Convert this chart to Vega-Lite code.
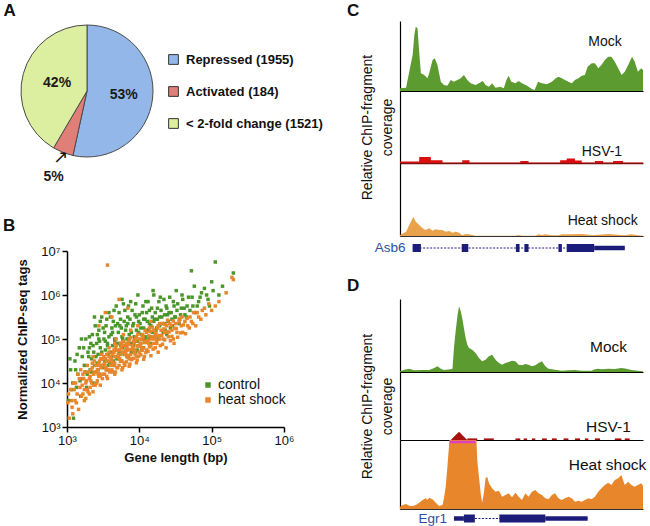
{
"$schema": "https://vega.github.io/schema/vega-lite/v6.json",
"padding": {"left": 2, "top": 2, "right": 0, "bottom": 0},
"config": {"font": "Liberation Sans", "view": {"stroke": null}, "title": {"fontSize": 17, "fontWeight": "bold", "anchor": "start", "color": "#111"}},
"resolve": {"scale": {"color": "independent"}, "legend": {"color": "independent"}},
"datasets": {
"pie": [{"cat": "Repressed (1955)", "n": 1955, "pct": "53%"}, {"cat": "Activated (184)", "n": 184, "pct": "5%"}, {"cat": "< 2-fold change (1521)", "n": 1521, "pct": "42%"}],
"scatter": [
{"grp":"control","lx":3.02,"ly":3.6},{"grp":"control","lx":3.05,"ly":4.3},{"grp":"control","lx":3.08,"ly":4.0},{"grp":"control","lx":3.09,"ly":3.2},
{"grp":"control","lx":3.11,"ly":4.5},{"grp":"control","lx":3.13,"ly":3.9},{"grp":"control","lx":3.15,"ly":4.2},{"grp":"control","lx":3.17,"ly":4.8},{"grp":"control","lx":3.19,"ly":3.7},
{"grp":"control","lx":3.21,"ly":4.6},{"grp":"control","lx":3.22,"ly":4.1},{"grp":"control","lx":3.24,"ly":4.4},{"grp":"control","lx":3.26,"ly":5.0},{"grp":"control","lx":3.27,"ly":3.9},{"grp":"control","lx":3.29,"ly":4.7},{"grp":"control","lx":3.25,"ly":4.25},
{"grp":"control","lx":3.31,"ly":4.8},{"grp":"control","lx":3.32,"ly":4.3},{"grp":"control","lx":3.34,"ly":4.55},{"grp":"control","lx":3.35,"ly":5.1},{"grp":"control","lx":3.36,"ly":4.0},{"grp":"control","lx":3.37,"ly":4.7},{"grp":"control","lx":3.38,"ly":4.4},{"grp":"control","lx":3.39,"ly":5.3},{"grp":"control","lx":3.33,"ly":4.9},
{"grp":"control","lx":3.41,"ly":4.9},{"grp":"control","lx":3.42,"ly":4.45},{"grp":"control","lx":3.43,"ly":4.65},{"grp":"control","lx":3.44,"ly":5.2},{"grp":"control","lx":3.45,"ly":4.2},{"grp":"control","lx":3.46,"ly":4.8},{"grp":"control","lx":3.47,"ly":4.55},{"grp":"control","lx":3.48,"ly":5.5},{"grp":"control","lx":3.49,"ly":4.35},{"grp":"control","lx":3.44,"ly":5.0},
{"grp":"control","lx":3.51,"ly":5.0},{"grp":"control","lx":3.52,"ly":4.5},{"grp":"control","lx":3.53,"ly":4.75},{"grp":"control","lx":3.54,"ly":5.3},{"grp":"control","lx":3.55,"ly":4.3},{"grp":"control","lx":3.56,"ly":4.9},{"grp":"control","lx":3.57,"ly":4.65},{"grp":"control","lx":3.58,"ly":5.6},{"grp":"control","lx":3.59,"ly":4.45},{"grp":"control","lx":3.52,"ly":5.15},{"grp":"control","lx":3.56,"ly":4.85},
{"grp":"control","lx":3.61,"ly":5.1},{"grp":"control","lx":3.62,"ly":4.6},{"grp":"control","lx":3.63,"ly":4.85},{"grp":"control","lx":3.64,"ly":5.4},{"grp":"control","lx":3.65,"ly":4.4},{"grp":"control","lx":3.66,"ly":5.0},{"grp":"control","lx":3.67,"ly":4.75},{"grp":"control","lx":3.68,"ly":5.75},{"grp":"control","lx":3.69,"ly":4.55},{"grp":"control","lx":3.62,"ly":5.25},{"grp":"control","lx":3.66,"ly":4.95},
{"grp":"control","lx":3.71,"ly":5.15},{"grp":"control","lx":3.72,"ly":4.7},{"grp":"control","lx":3.73,"ly":4.9},{"grp":"control","lx":3.74,"ly":5.45},{"grp":"control","lx":3.75,"ly":4.5},{"grp":"control","lx":3.76,"ly":5.05},{"grp":"control","lx":3.77,"ly":4.8},{"grp":"control","lx":3.78,"ly":5.8},{"grp":"control","lx":3.79,"ly":4.65},{"grp":"control","lx":3.73,"ly":5.3},{"grp":"control","lx":3.77,"ly":5.0},
{"grp":"control","lx":3.81,"ly":5.2},{"grp":"control","lx":3.82,"ly":4.75},{"grp":"control","lx":3.83,"ly":5.0},{"grp":"control","lx":3.84,"ly":5.5},{"grp":"control","lx":3.85,"ly":4.6},{"grp":"control","lx":3.86,"ly":5.1},{"grp":"control","lx":3.87,"ly":4.9},{"grp":"control","lx":3.88,"ly":5.85},{"grp":"control","lx":3.89,"ly":4.7},{"grp":"control","lx":3.84,"ly":5.35},
{"grp":"control","lx":3.91,"ly":5.3},{"grp":"control","lx":3.92,"ly":4.85},{"grp":"control","lx":3.93,"ly":5.05},{"grp":"control","lx":3.94,"ly":5.55},{"grp":"control","lx":3.95,"ly":4.7},{"grp":"control","lx":3.96,"ly":5.2},{"grp":"control","lx":3.97,"ly":4.95},{"grp":"control","lx":3.98,"ly":6.0},{"grp":"control","lx":3.99,"ly":5.4},
{"grp":"control","lx":4.01,"ly":5.35},{"grp":"control","lx":4.02,"ly":4.9},{"grp":"control","lx":4.03,"ly":5.1},{"grp":"control","lx":4.04,"ly":5.6},{"grp":"control","lx":4.05,"ly":4.8},{"grp":"control","lx":4.06,"ly":5.25},{"grp":"control","lx":4.07,"ly":5.0},{"grp":"control","lx":4.08,"ly":5.45},{"grp":"control","lx":4.09,"ly":5.85},
{"grp":"control","lx":4.11,"ly":5.4},{"grp":"control","lx":4.12,"ly":5.0},{"grp":"control","lx":4.13,"ly":5.2},{"grp":"control","lx":4.14,"ly":5.65},{"grp":"control","lx":4.15,"ly":4.9},{"grp":"control","lx":4.16,"ly":5.3},{"grp":"control","lx":4.18,"ly":5.5},{"grp":"control","lx":4.19,"ly":6.1},
{"grp":"control","lx":4.21,"ly":5.45},{"grp":"control","lx":4.22,"ly":5.05},{"grp":"control","lx":4.24,"ly":5.25},{"grp":"control","lx":4.25,"ly":5.7},{"grp":"control","lx":4.26,"ly":5.0},{"grp":"control","lx":4.28,"ly":5.5},{"grp":"control","lx":4.29,"ly":5.95},
{"grp":"control","lx":4.31,"ly":5.5},{"grp":"control","lx":4.33,"ly":5.15},{"grp":"control","lx":4.35,"ly":5.35},{"grp":"control","lx":4.37,"ly":5.75},{"grp":"control","lx":4.38,"ly":5.1},{"grp":"control","lx":4.39,"ly":5.55},
{"grp":"control","lx":4.41,"ly":5.6},{"grp":"control","lx":4.43,"ly":5.25},{"grp":"control","lx":4.45,"ly":5.45},{"grp":"control","lx":4.47,"ly":5.85},{"grp":"control","lx":4.49,"ly":5.5},
{"grp":"control","lx":4.52,"ly":5.65},{"grp":"control","lx":4.55,"ly":5.35},{"grp":"control","lx":4.57,"ly":5.55},{"grp":"control","lx":4.59,"ly":6.0},
{"grp":"control","lx":4.62,"ly":5.7},{"grp":"control","lx":4.65,"ly":5.5},{"grp":"control","lx":4.68,"ly":5.95},
{"grp":"control","lx":4.72,"ly":6.55},{"grp":"control","lx":4.74,"ly":5.75},{"grp":"control","lx":4.78,"ly":5.6},
{"grp":"control","lx":4.82,"ly":5.85},{"grp":"control","lx":4.86,"ly":6.05},{"grp":"control","lx":4.93,"ly":6.0},{"grp":"control","lx":4.97,"ly":5.75},
{"grp":"control","lx":5.05,"ly":6.75},{"grp":"control","lx":5.02,"ly":6.1},{"grp":"control","lx":5.15,"ly":6.2},{"grp":"control","lx":5.3,"ly":6.5},
{"grp":"control","lx":3.04,"ly":4.55},{"grp":"control","lx":3.06,"ly":3.85},{"grp":"control","lx":3.12,"ly":4.3},{"grp":"control","lx":3.14,"ly":4.65},{"grp":"control","lx":3.18,"ly":4.05},{"grp":"control","lx":3.2,"ly":5.0},{"grp":"control","lx":3.23,"ly":4.8},{"grp":"control","lx":3.28,"ly":4.2},{"grp":"control","lx":3.3,"ly":4.6},{"grp":"control","lx":3.31,"ly":5.05},{"grp":"control","lx":3.34,"ly":4.25},{"grp":"control","lx":3.36,"ly":4.85},{"grp":"control","lx":3.38,"ly":5.5},{"grp":"control","lx":3.4,"ly":4.6},{"grp":"control","lx":3.42,"ly":5.1},{"grp":"control","lx":3.43,"ly":4.3},{"grp":"control","lx":3.45,"ly":4.95},{"grp":"control","lx":3.46,"ly":5.4},{"grp":"control","lx":3.48,"ly":4.7},{"grp":"control","lx":3.5,"ly":4.4},{"grp":"control","lx":3.5,"ly":5.25},{"grp":"control","lx":3.53,"ly":4.95},{"grp":"control","lx":3.55,"ly":5.45},{"grp":"control","lx":3.57,"ly":4.4},{"grp":"control","lx":3.58,"ly":5.05},{"grp":"control","lx":3.6,"ly":4.7},{"grp":"control","lx":3.6,"ly":5.5},{"grp":"control","lx":3.63,"ly":5.15},{"grp":"control","lx":3.64,"ly":4.5},{"grp":"control","lx":3.65,"ly":5.65},{"grp":"control","lx":3.67,"ly":5.3},{"grp":"control","lx":3.69,"ly":4.9},{"grp":"control","lx":3.7,"ly":5.35},{"grp":"control","lx":3.7,"ly":4.6},{"grp":"control","lx":3.72,"ly":5.6},{"grp":"control","lx":3.74,"ly":4.85},{"grp":"control","lx":3.75,"ly":5.25},{"grp":"control","lx":3.76,"ly":5.9},{"grp":"control","lx":3.78,"ly":4.95},{"grp":"control","lx":3.79,"ly":5.4},{"grp":"control","lx":3.8,"ly":4.85},{"grp":"control","lx":3.8,"ly":5.65},{"grp":"control","lx":3.82,"ly":5.3},{"grp":"control","lx":3.83,"ly":4.6},{"grp":"control","lx":3.85,"ly":5.75},{"grp":"control","lx":3.86,"ly":5.0},{"grp":"control","lx":3.87,"ly":5.45},{"grp":"control","lx":3.89,"ly":5.15},{"grp":"control","lx":3.9,"ly":4.9},{"grp":"control","lx":3.9,"ly":5.65},{"grp":"control","lx":3.92,"ly":5.35},{"grp":"control","lx":3.94,"ly":5.0},{"grp":"control","lx":3.95,"ly":5.8},{"grp":"control","lx":3.96,"ly":5.5},{"grp":"control","lx":3.97,"ly":4.75},{"grp":"control","lx":3.99,"ly":5.15},{"grp":"control","lx":4.0,"ly":5.55},{"grp":"control","lx":4.02,"ly":5.25},{"grp":"control","lx":4.03,"ly":4.75},{"grp":"control","lx":4.05,"ly":5.75},{"grp":"control","lx":4.06,"ly":5.45},{"grp":"control","lx":4.08,"ly":5.05},{"grp":"control","lx":4.1,"ly":5.6},{"grp":"control","lx":4.1,"ly":5.2},{"grp":"control","lx":4.12,"ly":5.85},{"grp":"control","lx":4.14,"ly":5.35},{"grp":"control","lx":4.15,"ly":5.05},{"grp":"control","lx":4.17,"ly":5.7},{"grp":"control","lx":4.18,"ly":5.15},{"grp":"control","lx":4.2,"ly":5.4},{"grp":"control","lx":4.2,"ly":6.0},{"grp":"control","lx":4.22,"ly":5.6},{"grp":"control","lx":4.23,"ly":5.2},{"grp":"control","lx":4.25,"ly":5.45},{"grp":"control","lx":4.27,"ly":5.85},{"grp":"control","lx":4.28,"ly":5.3},{"grp":"control","lx":4.3,"ly":5.65},{"grp":"control","lx":4.32,"ly":5.35},{"grp":"control","lx":4.34,"ly":5.9},{"grp":"control","lx":4.35,"ly":5.55},{"grp":"control","lx":4.36,"ly":5.2},{"grp":"control","lx":4.38,"ly":5.7},{"grp":"control","lx":4.4,"ly":5.4},{"grp":"control","lx":4.42,"ly":5.95},{"grp":"control","lx":4.44,"ly":5.6},{"grp":"control","lx":4.46,"ly":5.3},{"grp":"control","lx":4.48,"ly":5.75},{"grp":"control","lx":4.5,"ly":5.5},{"grp":"control","lx":4.51,"ly":6.1},{"grp":"control","lx":4.53,"ly":5.8},{"grp":"control","lx":4.56,"ly":5.45},{"grp":"control","lx":4.58,"ly":5.7},{"grp":"control","lx":4.6,"ly":5.9},{"grp":"control","lx":4.63,"ly":5.55},{"grp":"control","lx":4.66,"ly":5.75},{"grp":"control","lx":4.7,"ly":5.65},{"grp":"control","lx":4.73,"ly":5.95},{"grp":"control","lx":4.76,"ly":6.2},{"grp":"control","lx":4.8,"ly":5.75},{"grp":"control","lx":4.84,"ly":5.95},{"grp":"control","lx":4.9,"ly":6.15},{"grp":"control","lx":4.95,"ly":5.9},{"grp":"control","lx":5.0,"ly":6.3},{"grp":"control","lx":5.1,"ly":6.0},
{"grp":"heat shock","lx":3.01,"ly":3.55},{"grp":"heat shock","lx":3.03,"ly":3.2},{"grp":"heat shock","lx":3.05,"ly":3.85},{"grp":"heat shock","lx":3.07,"ly":3.45},{"grp":"heat shock","lx":3.09,"ly":4.0},
{"grp":"heat shock","lx":3.11,"ly":3.6},{"grp":"heat shock","lx":3.12,"ly":4.0},{"grp":"heat shock","lx":3.14,"ly":3.75},{"grp":"heat shock","lx":3.15,"ly":4.2},{"grp":"heat shock","lx":3.16,"ly":3.4},{"grp":"heat shock","lx":3.18,"ly":3.9},{"grp":"heat shock","lx":3.19,"ly":4.3},
{"grp":"heat shock","lx":3.21,"ly":3.95},{"grp":"heat shock","lx":3.22,"ly":3.75},{"grp":"heat shock","lx":3.23,"ly":4.1},{"grp":"heat shock","lx":3.24,"ly":3.85},{"grp":"heat shock","lx":3.25,"ly":4.25},{"grp":"heat shock","lx":3.26,"ly":3.65},{"grp":"heat shock","lx":3.27,"ly":4.05},{"grp":"heat shock","lx":3.28,"ly":4.4},{"grp":"heat shock","lx":3.29,"ly":3.8},
{"grp":"heat shock","lx":3.31,"ly":4.1},{"grp":"heat shock","lx":3.32,"ly":3.9},{"grp":"heat shock","lx":3.33,"ly":4.3},{"grp":"heat shock","lx":3.34,"ly":4.0},{"grp":"heat shock","lx":3.35,"ly":4.35},{"grp":"heat shock","lx":3.36,"ly":3.8},{"grp":"heat shock","lx":3.37,"ly":4.2},{"grp":"heat shock","lx":3.38,"ly":4.5},{"grp":"heat shock","lx":3.39,"ly":3.95},{"grp":"heat shock","lx":3.32,"ly":4.15},{"grp":"heat shock","lx":3.36,"ly":4.6},
{"grp":"heat shock","lx":3.41,"ly":4.25},{"grp":"heat shock","lx":3.42,"ly":4.05},{"grp":"heat shock","lx":3.43,"ly":4.4},{"grp":"heat shock","lx":3.44,"ly":4.15},{"grp":"heat shock","lx":3.45,"ly":4.5},{"grp":"heat shock","lx":3.46,"ly":3.95},{"grp":"heat shock","lx":3.47,"ly":4.35},{"grp":"heat shock","lx":3.48,"ly":4.65},{"grp":"heat shock","lx":3.49,"ly":4.1},{"grp":"heat shock","lx":3.42,"ly":4.3},{"grp":"heat shock","lx":3.45,"ly":4.2},{"grp":"heat shock","lx":3.47,"ly":4.55},{"grp":"heat shock","lx":3.44,"ly":5.3},
{"grp":"heat shock","lx":3.51,"ly":4.4},{"grp":"heat shock","lx":3.52,"ly":4.2},{"grp":"heat shock","lx":3.53,"ly":4.55},{"grp":"heat shock","lx":3.54,"ly":4.3},{"grp":"heat shock","lx":3.55,"ly":4.65},{"grp":"heat shock","lx":3.56,"ly":4.1},{"grp":"heat shock","lx":3.57,"ly":4.5},{"grp":"heat shock","lx":3.58,"ly":4.8},{"grp":"heat shock","lx":3.59,"ly":4.25},{"grp":"heat shock","lx":3.52,"ly":4.45},{"grp":"heat shock","lx":3.54,"ly":4.35},{"grp":"heat shock","lx":3.56,"ly":6.68},{"grp":"heat shock","lx":3.58,"ly":4.6},{"grp":"heat shock","lx":3.53,"ly":5.6},
{"grp":"heat shock","lx":3.61,"ly":4.5},{"grp":"heat shock","lx":3.62,"ly":4.3},{"grp":"heat shock","lx":3.63,"ly":4.65},{"grp":"heat shock","lx":3.64,"ly":4.4},{"grp":"heat shock","lx":3.65,"ly":4.75},{"grp":"heat shock","lx":3.66,"ly":4.2},{"grp":"heat shock","lx":3.67,"ly":4.6},{"grp":"heat shock","lx":3.68,"ly":4.85},{"grp":"heat shock","lx":3.69,"ly":4.35},{"grp":"heat shock","lx":3.61,"ly":4.55},{"grp":"heat shock","lx":3.63,"ly":4.45},{"grp":"heat shock","lx":3.65,"ly":4.7},{"grp":"heat shock","lx":3.67,"ly":4.25},{"grp":"heat shock","lx":3.68,"ly":5.0},{"grp":"heat shock","lx":3.62,"ly":5.5},{"grp":"heat shock","lx":3.66,"ly":4.9},
{"grp":"heat shock","lx":3.71,"ly":4.6},{"grp":"heat shock","lx":3.72,"ly":4.4},{"grp":"heat shock","lx":3.73,"ly":4.75},{"grp":"heat shock","lx":3.74,"ly":4.5},{"grp":"heat shock","lx":3.75,"ly":4.85},{"grp":"heat shock","lx":3.76,"ly":4.3},{"grp":"heat shock","lx":3.77,"ly":4.7},{"grp":"heat shock","lx":3.78,"ly":4.95},{"grp":"heat shock","lx":3.79,"ly":4.45},{"grp":"heat shock","lx":3.71,"ly":4.65},{"grp":"heat shock","lx":3.73,"ly":4.55},{"grp":"heat shock","lx":3.75,"ly":4.8},{"grp":"heat shock","lx":3.77,"ly":4.35},{"grp":"heat shock","lx":3.78,"ly":5.1},{"grp":"heat shock","lx":3.72,"ly":5.9},{"grp":"heat shock","lx":3.76,"ly":4.9},
{"grp":"heat shock","lx":3.81,"ly":4.68},{"grp":"heat shock","lx":3.82,"ly":4.48},{"grp":"heat shock","lx":3.83,"ly":4.83},{"grp":"heat shock","lx":3.84,"ly":4.58},{"grp":"heat shock","lx":3.85,"ly":4.93},{"grp":"heat shock","lx":3.86,"ly":4.38},{"grp":"heat shock","lx":3.87,"ly":4.76},{"grp":"heat shock","lx":3.88,"ly":5.03},{"grp":"heat shock","lx":3.89,"ly":4.53},{"grp":"heat shock","lx":3.81,"ly":4.73},{"grp":"heat shock","lx":3.83,"ly":4.63},{"grp":"heat shock","lx":3.85,"ly":4.88},{"grp":"heat shock","lx":3.87,"ly":4.43},{"grp":"heat shock","lx":3.88,"ly":5.2},{"grp":"heat shock","lx":3.84,"ly":5.7},
{"grp":"heat shock","lx":3.91,"ly":4.76},{"grp":"heat shock","lx":3.92,"ly":4.56},{"grp":"heat shock","lx":3.93,"ly":4.91},{"grp":"heat shock","lx":3.94,"ly":4.66},{"grp":"heat shock","lx":3.95,"ly":5.01},{"grp":"heat shock","lx":3.96,"ly":4.46},{"grp":"heat shock","lx":3.97,"ly":4.84},{"grp":"heat shock","lx":3.98,"ly":5.11},{"grp":"heat shock","lx":3.99,"ly":4.61},{"grp":"heat shock","lx":3.91,"ly":4.81},{"grp":"heat shock","lx":3.93,"ly":4.71},{"grp":"heat shock","lx":3.95,"ly":4.96},{"grp":"heat shock","lx":3.97,"ly":4.52},{"grp":"heat shock","lx":3.98,"ly":5.3},
{"grp":"heat shock","lx":4.01,"ly":4.84},{"grp":"heat shock","lx":4.02,"ly":4.64},{"grp":"heat shock","lx":4.03,"ly":4.99},{"grp":"heat shock","lx":4.04,"ly":4.74},{"grp":"heat shock","lx":4.05,"ly":5.09},{"grp":"heat shock","lx":4.06,"ly":4.54},{"grp":"heat shock","lx":4.07,"ly":4.92},{"grp":"heat shock","lx":4.08,"ly":5.19},{"grp":"heat shock","lx":4.09,"ly":4.69},{"grp":"heat shock","lx":4.01,"ly":4.89},{"grp":"heat shock","lx":4.03,"ly":4.79},{"grp":"heat shock","lx":4.05,"ly":5.04},{"grp":"heat shock","lx":4.07,"ly":4.6},
{"grp":"heat shock","lx":4.11,"ly":4.92},{"grp":"heat shock","lx":4.12,"ly":4.72},{"grp":"heat shock","lx":4.13,"ly":5.07},{"grp":"heat shock","lx":4.14,"ly":4.82},{"grp":"heat shock","lx":4.15,"ly":5.17},{"grp":"heat shock","lx":4.16,"ly":4.62},{"grp":"heat shock","lx":4.17,"ly":5.0},{"grp":"heat shock","lx":4.18,"ly":5.27},{"grp":"heat shock","lx":4.19,"ly":4.77},{"grp":"heat shock","lx":4.12,"ly":4.97},{"grp":"heat shock","lx":4.16,"ly":5.4},
{"grp":"heat shock","lx":4.21,"ly":5.0},{"grp":"heat shock","lx":4.22,"ly":4.8},{"grp":"heat shock","lx":4.23,"ly":5.15},{"grp":"heat shock","lx":4.24,"ly":4.9},{"grp":"heat shock","lx":4.25,"ly":5.25},{"grp":"heat shock","lx":4.26,"ly":4.7},{"grp":"heat shock","lx":4.27,"ly":5.08},{"grp":"heat shock","lx":4.28,"ly":5.35},{"grp":"heat shock","lx":4.29,"ly":4.85},{"grp":"heat shock","lx":4.23,"ly":5.05},
{"grp":"heat shock","lx":4.31,"ly":5.08},{"grp":"heat shock","lx":4.32,"ly":4.88},{"grp":"heat shock","lx":4.34,"ly":5.23},{"grp":"heat shock","lx":4.35,"ly":4.98},{"grp":"heat shock","lx":4.36,"ly":5.33},{"grp":"heat shock","lx":4.37,"ly":4.8},{"grp":"heat shock","lx":4.38,"ly":5.16},{"grp":"heat shock","lx":4.39,"ly":5.43},
{"grp":"heat shock","lx":4.41,"ly":5.16},{"grp":"heat shock","lx":4.43,"ly":4.96},{"grp":"heat shock","lx":4.44,"ly":5.31},{"grp":"heat shock","lx":4.45,"ly":5.06},{"grp":"heat shock","lx":4.47,"ly":5.41},{"grp":"heat shock","lx":4.48,"ly":4.9},{"grp":"heat shock","lx":4.49,"ly":5.24},
{"grp":"heat shock","lx":4.51,"ly":5.24},{"grp":"heat shock","lx":4.53,"ly":5.04},{"grp":"heat shock","lx":4.55,"ly":5.39},{"grp":"heat shock","lx":4.57,"ly":5.14},{"grp":"heat shock","lx":4.59,"ly":5.5},
{"grp":"heat shock","lx":4.61,"ly":5.32},{"grp":"heat shock","lx":4.64,"ly":5.12},{"grp":"heat shock","lx":4.66,"ly":5.47},{"grp":"heat shock","lx":4.69,"ly":5.25},
{"grp":"heat shock","lx":4.72,"ly":5.4},{"grp":"heat shock","lx":4.75,"ly":5.6},{"grp":"heat shock","lx":4.78,"ly":5.3},
{"grp":"heat shock","lx":4.82,"ly":5.5},{"grp":"heat shock","lx":4.87,"ly":5.65},{"grp":"heat shock","lx":4.92,"ly":5.55},{"grp":"heat shock","lx":4.96,"ly":5.8},
{"grp":"heat shock","lx":5.05,"ly":5.75},{"grp":"heat shock","lx":5.2,"ly":6.05},{"grp":"heat shock","lx":5.3,"ly":6.35},{"grp":"heat shock","lx":5.28,"ly":6.4},
{"grp":"heat shock","lx":3.02,"ly":3.75},{"grp":"heat shock","lx":3.06,"ly":3.6},{"grp":"heat shock","lx":3.08,"ly":3.3},{"grp":"heat shock","lx":3.1,"ly":3.85},{"grp":"heat shock","lx":3.13,"ly":3.55},{"grp":"heat shock","lx":3.17,"ly":4.1},{"grp":"heat shock","lx":3.2,"ly":3.7},{"grp":"heat shock","lx":3.22,"ly":4.2},{"grp":"heat shock","lx":3.24,"ly":3.6},{"grp":"heat shock","lx":3.26,"ly":4.0},{"grp":"heat shock","lx":3.28,"ly":3.85},{"grp":"heat shock","lx":3.3,"ly":4.25},{"grp":"heat shock","lx":3.31,"ly":3.75},{"grp":"heat shock","lx":3.33,"ly":4.05},{"grp":"heat shock","lx":3.35,"ly":4.45},{"grp":"heat shock","lx":3.37,"ly":3.95},{"grp":"heat shock","lx":3.38,"ly":4.25},{"grp":"heat shock","lx":3.4,"ly":4.4},{"grp":"heat shock","lx":3.41,"ly":4.0},{"grp":"heat shock","lx":3.43,"ly":4.2},{"grp":"heat shock","lx":3.44,"ly":4.45},{"grp":"heat shock","lx":3.46,"ly":4.15},{"grp":"heat shock","lx":3.48,"ly":4.4},{"grp":"heat shock","lx":3.49,"ly":4.55},{"grp":"heat shock","lx":3.5,"ly":4.2},{"grp":"heat shock","lx":3.51,"ly":4.6},{"grp":"heat shock","lx":3.53,"ly":4.35},{"grp":"heat shock","lx":3.55,"ly":4.15},{"grp":"heat shock","lx":3.55,"ly":4.5},{"grp":"heat shock","lx":3.57,"ly":4.3},{"grp":"heat shock","lx":3.58,"ly":4.7},{"grp":"heat shock","lx":3.6,"ly":4.4},{"grp":"heat shock","lx":3.6,"ly":4.6},{"grp":"heat shock","lx":3.62,"ly":4.5},{"grp":"heat shock","lx":3.63,"ly":4.25},{"grp":"heat shock","lx":3.64,"ly":4.7},{"grp":"heat shock","lx":3.66,"ly":4.45},{"grp":"heat shock","lx":3.67,"ly":4.8},{"grp":"heat shock","lx":3.69,"ly":4.6},{"grp":"heat shock","lx":3.7,"ly":4.35},{"grp":"heat shock","lx":3.7,"ly":4.75},{"grp":"heat shock","lx":3.72,"ly":4.55},{"grp":"heat shock","lx":3.74,"ly":4.65},{"grp":"heat shock","lx":3.74,"ly":4.9},{"grp":"heat shock","lx":3.76,"ly":4.5},{"grp":"heat shock","lx":3.78,"ly":4.7},{"grp":"heat shock","lx":3.79,"ly":4.85},{"grp":"heat shock","lx":3.8,"ly":4.4},{"grp":"heat shock","lx":3.8,"ly":4.65},{"grp":"heat shock","lx":3.82,"ly":4.9},{"grp":"heat shock","lx":3.84,"ly":4.75},{"grp":"heat shock","lx":3.86,"ly":4.55},{"grp":"heat shock","lx":3.86,"ly":5.0},{"grp":"heat shock","lx":3.88,"ly":4.65},{"grp":"heat shock","lx":3.9,"ly":4.85},{"grp":"heat shock","lx":3.9,"ly":4.55},{"grp":"heat shock","lx":3.92,"ly":4.95},{"grp":"heat shock","lx":3.94,"ly":4.75},{"grp":"heat shock","lx":3.96,"ly":4.6},{"grp":"heat shock","lx":3.96,"ly":5.05},{"grp":"heat shock","lx":3.98,"ly":4.85},{"grp":"heat shock","lx":4.0,"ly":4.7},{"grp":"heat shock","lx":4.0,"ly":5.0},{"grp":"heat shock","lx":4.02,"ly":4.9},{"grp":"heat shock","lx":4.04,"ly":5.1},{"grp":"heat shock","lx":4.06,"ly":4.8},{"grp":"heat shock","lx":4.08,"ly":4.95},{"grp":"heat shock","lx":4.1,"ly":4.75},{"grp":"heat shock","lx":4.1,"ly":5.15},{"grp":"heat shock","lx":4.13,"ly":4.9},{"grp":"heat shock","lx":4.14,"ly":5.25},{"grp":"heat shock","lx":4.16,"ly":4.85},{"grp":"heat shock","lx":4.18,"ly":5.05},{"grp":"heat shock","lx":4.2,"ly":4.9},{"grp":"heat shock","lx":4.2,"ly":5.2},{"grp":"heat shock","lx":4.22,"ly":5.1},{"grp":"heat shock","lx":4.24,"ly":4.95},{"grp":"heat shock","lx":4.26,"ly":5.3},{"grp":"heat shock","lx":4.28,"ly":5.0},{"grp":"heat shock","lx":4.3,"ly":5.2},{"grp":"heat shock","lx":4.32,"ly":5.35},{"grp":"heat shock","lx":4.33,"ly":5.0},{"grp":"heat shock","lx":4.35,"ly":5.15},{"grp":"heat shock","lx":4.38,"ly":5.3},{"grp":"heat shock","lx":4.4,"ly":5.05},{"grp":"heat shock","lx":4.42,"ly":5.35},{"grp":"heat shock","lx":4.45,"ly":5.2},{"grp":"heat shock","lx":4.47,"ly":5.0},{"grp":"heat shock","lx":4.5,"ly":5.35},{"grp":"heat shock","lx":4.52,"ly":5.15},{"grp":"heat shock","lx":4.55,"ly":5.45},{"grp":"heat shock","lx":4.58,"ly":5.3},{"grp":"heat shock","lx":4.6,"ly":5.15},{"grp":"heat shock","lx":4.63,"ly":5.4},{"grp":"heat shock","lx":4.67,"ly":5.3},{"grp":"heat shock","lx":4.7,"ly":5.5},{"grp":"heat shock","lx":4.74,"ly":5.35},{"grp":"heat shock","lx":4.8,"ly":5.6},{"grp":"heat shock","lx":4.85,"ly":5.45},{"grp":"heat shock","lx":4.9,"ly":5.7},{"grp":"heat shock","lx":5.0,"ly":5.65},{"grp":"heat shock","lx":5.1,"ly":5.85}
],
"c_mock": [{"pos":0,"cov":2.7},{"pos":2.5,"cov":3.3},{"pos":3.8,"cov":19.3},{"pos":5.2,"cov":36},{"pos":5.9,"cov":56},{"pos":6.5,"cov":64.3},{"pos":7.2,"cov":62.7},{"pos":7.9,"cov":39.3},{"pos":8.6,"cov":17.7},{"pos":10.0,"cov":16},{"pos":11.3,"cov":12.7},{"pos":12.0,"cov":17.7},{"pos":13.4,"cov":31},{"pos":14.3,"cov":32.7},{"pos":15.4,"cov":26},{"pos":16.8,"cov":9.3},{"pos":18.1,"cov":6},{"pos":19.5,"cov":5.3},{"pos":20.9,"cov":11},{"pos":22.2,"cov":9.3},{"pos":23.6,"cov":11},{"pos":25.0,"cov":12.7},{"pos":26.3,"cov":16},{"pos":27.7,"cov":11},{"pos":29.1,"cov":7.7},{"pos":31.1,"cov":6},{"pos":32.5,"cov":7.7},{"pos":34.1,"cov":10},{"pos":35.2,"cov":6},{"pos":36.6,"cov":4.3},{"pos":37.9,"cov":7.7},{"pos":39.3,"cov":3.3},{"pos":41.3,"cov":4.3},{"pos":42.7,"cov":2.7},{"pos":43.8,"cov":11},{"pos":44.7,"cov":15.3},{"pos":45.8,"cov":9.3},{"pos":47.5,"cov":7.7},{"pos":48.8,"cov":10},{"pos":50.2,"cov":7.7},{"pos":52.3,"cov":5.3},{"pos":54.3,"cov":2},{"pos":55.4,"cov":1},{"pos":56.8,"cov":9.3},{"pos":58.4,"cov":7.7},{"pos":60.4,"cov":6.7},{"pos":62.5,"cov":9.3},{"pos":64.1,"cov":12.7},{"pos":65.2,"cov":14.3},{"pos":66.6,"cov":12.7},{"pos":67.9,"cov":11},{"pos":69.3,"cov":9.3},{"pos":70.7,"cov":7.7},{"pos":72.0,"cov":11},{"pos":73.4,"cov":12.7},{"pos":74.8,"cov":15.3},{"pos":76.1,"cov":16},{"pos":77.2,"cov":24.3},{"pos":78.9,"cov":27.7},{"pos":80.2,"cov":27.7},{"pos":81.6,"cov":22.7},{"pos":82.9,"cov":26},{"pos":84.3,"cov":31},{"pos":85.7,"cov":34.3},{"pos":87.0,"cov":34.3},{"pos":88.4,"cov":29.3},{"pos":89.8,"cov":22.7},{"pos":91.2,"cov":16},{"pos":92.5,"cov":19.3},{"pos":93.9,"cov":26},{"pos":95.5,"cov":34.3},{"pos":96.6,"cov":29.3},{"pos":97.9,"cov":19.3},{"pos":99.3,"cov":22.7},{"pos":100,"cov":21}],
"c_hsv": [{"pos":0,"cov":1.5},{"pos":7.9,"cov":6},{"pos":12.7,"cov":2.7},{"pos":17.5,"cov":0.4},{"pos":25.6,"cov":2.7},{"pos":28.6,"cov":0.4},{"pos":49.5,"cov":2},{"pos":52.9,"cov":0.4},{"pos":65.9,"cov":2.7},{"pos":68.6,"cov":4.5},{"pos":72,"cov":2.5},{"pos":74.8,"cov":0.4},{"pos":80.2,"cov":2},{"pos":83.6,"cov":0.4},{"pos":87.7,"cov":2},{"pos":91.8,"cov":0.4},{"pos":100,"cov":0.4}],
"c_hs": [{"pos":0,"cov":1},{"pos":2.5,"cov":4.3},{"pos":3.8,"cov":11},{"pos":5.2,"cov":17.7},{"pos":5.5,"cov":19.3},{"pos":6.5,"cov":14.3},{"pos":7.9,"cov":11},{"pos":9.3,"cov":7.7},{"pos":10.6,"cov":6},{"pos":12.0,"cov":7.7},{"pos":13.4,"cov":5.3},{"pos":14.7,"cov":6.7},{"pos":16.1,"cov":6},{"pos":17.5,"cov":6},{"pos":18.8,"cov":4.3},{"pos":20.2,"cov":5},{"pos":21.6,"cov":3.3},{"pos":22.9,"cov":4.3},{"pos":24.3,"cov":3.3},{"pos":25.6,"cov":0.7},{"pos":27.0,"cov":2},{"pos":28.4,"cov":1.7},{"pos":31.1,"cov":0.3},{"pos":47.5,"cov":0.3},{"pos":48.8,"cov":1},{"pos":50.2,"cov":0.3},{"pos":55.7,"cov":0.3},{"pos":57.0,"cov":1.7},{"pos":58.4,"cov":1},{"pos":59.8,"cov":1.7},{"pos":62.5,"cov":0.7},{"pos":65.2,"cov":0.7},{"pos":66.6,"cov":1.7},{"pos":69.3,"cov":1.7},{"pos":74.8,"cov":2},{"pos":76.1,"cov":1.7},{"pos":78.9,"cov":0.7},{"pos":81.6,"cov":1.3},{"pos":84.3,"cov":1.7},{"pos":85.7,"cov":2},{"pos":89.8,"cov":1.3},{"pos":92.5,"cov":0.7},{"pos":95.2,"cov":1.7},{"pos":97.9,"cov":0.7},{"pos":100,"cov":0.3}],
"d_mock": [{"pos":0,"cov":0.7},{"pos":1.8,"cov":2.3},{"pos":3.8,"cov":3.3},{"pos":5.9,"cov":1.7},{"pos":9.3,"cov":2},{"pos":12.0,"cov":2},{"pos":14.1,"cov":4},{"pos":15.4,"cov":5.7},{"pos":16.8,"cov":3.3},{"pos":18.1,"cov":2},{"pos":20.9,"cov":2.7},{"pos":21.6,"cov":3.3},{"pos":22.2,"cov":24},{"pos":22.9,"cov":40.7},{"pos":23.7,"cov":57.3},{"pos":24.3,"cov":65.7},{"pos":25.0,"cov":60.7},{"pos":25.6,"cov":54},{"pos":26.3,"cov":44},{"pos":27.0,"cov":34},{"pos":27.7,"cov":27.3},{"pos":28.4,"cov":24},{"pos":29.7,"cov":22.3},{"pos":31.1,"cov":19},{"pos":32.5,"cov":14},{"pos":33.8,"cov":10.7},{"pos":35.2,"cov":12.3},{"pos":36.6,"cov":15.7},{"pos":37.9,"cov":17.3},{"pos":39.3,"cov":12.3},{"pos":40.7,"cov":9},{"pos":42.0,"cov":7.3},{"pos":43.4,"cov":9},{"pos":44.7,"cov":10},{"pos":46.1,"cov":11.3},{"pos":47.5,"cov":10.7},{"pos":48.8,"cov":7.3},{"pos":50.2,"cov":6.7},{"pos":51.6,"cov":8},{"pos":52.9,"cov":7.3},{"pos":54.3,"cov":5.7},{"pos":55.7,"cov":6.7},{"pos":57.0,"cov":9},{"pos":58.4,"cov":10.7},{"pos":59.8,"cov":5.7},{"pos":61.1,"cov":3.3},{"pos":62.5,"cov":2.7},{"pos":63.8,"cov":2.3},{"pos":66.6,"cov":1.3},{"pos":69.3,"cov":1.7},{"pos":72.0,"cov":2},{"pos":74.8,"cov":1.3},{"pos":78.9,"cov":1.3},{"pos":80.2,"cov":2.7},{"pos":81.6,"cov":3.3},{"pos":82.9,"cov":2.7},{"pos":85.7,"cov":3.3},{"pos":88.4,"cov":3},{"pos":91.1,"cov":4},{"pos":93.2,"cov":3.3},{"pos":95.2,"cov":2},{"pos":97.9,"cov":1.3},{"pos":100,"cov":0.7}],
"d_hsv": [{"pos":20.9,"cov":0},{"pos":22.5,"cov":4},{"pos":24.3,"cov":8.3},{"pos":26,"cov":4},{"pos":27.7,"cov":0}],
"d_hsv_dash": [{"start":27.7,"end":31.8},{"start":34.5,"end":38.6},{"start":47.5,"end":49.5},{"start":50.9,"end":52.3},{"start":54.3,"end":55.7},{"start":58.4,"end":60.4},{"start":62.5,"end":64.5},{"start":67.3,"end":69.3},{"start":72.0,"end":74.1},{"start":76.1,"end":77.5},{"start":80.2,"end":82.3},{"start":88.4,"end":91.1},{"start":92.5,"end":94.5}],
"d_hs": [{"pos":0,"cov":2.3},{"pos":1.1,"cov":4},{"pos":2.5,"cov":5},{"pos":3.8,"cov":3.3},{"pos":5.2,"cov":3},{"pos":6.5,"cov":4},{"pos":7.9,"cov":6.3},{"pos":9.3,"cov":9},{"pos":10.6,"cov":10.7},{"pos":11.3,"cov":9},{"pos":12.0,"cov":11.3},{"pos":13.4,"cov":9.7},{"pos":14.7,"cov":6.3},{"pos":16.1,"cov":3},{"pos":17.5,"cov":4},{"pos":18.1,"cov":10.7},{"pos":18.8,"cov":22.3},{"pos":19.5,"cov":42.3},{"pos":20.2,"cov":64},{"pos":20.6,"cov":90},{"pos":31.1,"cov":90},{"pos":31.8,"cov":49},{"pos":32.5,"cov":32.3},{"pos":33.2,"cov":15.7},{"pos":33.8,"cov":6.3},{"pos":34.5,"cov":15.7},{"pos":35.2,"cov":30.7},{"pos":35.9,"cov":32.3},{"pos":36.6,"cov":25.7},{"pos":37.9,"cov":20.7},{"pos":39.3,"cov":17.3},{"pos":40.7,"cov":18.3},{"pos":42.0,"cov":12.3},{"pos":43.4,"cov":14},{"pos":44.7,"cov":15.7},{"pos":46.1,"cov":11.7},{"pos":47.5,"cov":16.3},{"pos":48.8,"cov":12.3},{"pos":50.2,"cov":9},{"pos":51.6,"cov":15.7},{"pos":52.9,"cov":12.3},{"pos":54.3,"cov":17.3},{"pos":55.7,"cov":19},{"pos":57.0,"cov":15.7},{"pos":58.4,"cov":14},{"pos":59.8,"cov":10.7},{"pos":61.1,"cov":9.7},{"pos":62.5,"cov":14},{"pos":63.8,"cov":15.7},{"pos":65.2,"cov":10.7},{"pos":66.6,"cov":9},{"pos":67.9,"cov":10.7},{"pos":69.3,"cov":12.3},{"pos":70.7,"cov":10.7},{"pos":72.0,"cov":7.3},{"pos":73.4,"cov":8.3},{"pos":74.8,"cov":7.3},{"pos":76.1,"cov":9},{"pos":77.5,"cov":10.7},{"pos":78.9,"cov":9.7},{"pos":80.2,"cov":12.3},{"pos":81.6,"cov":17.3},{"pos":82.9,"cov":20.7},{"pos":84.3,"cov":24},{"pos":85.7,"cov":26.3},{"pos":87.0,"cov":24},{"pos":88.4,"cov":29},{"pos":89.8,"cov":30.7},{"pos":91.1,"cov":34},{"pos":92.5,"cov":24},{"pos":93.9,"cov":27.3},{"pos":95.2,"cov":24},{"pos":96.6,"cov":22.3},{"pos":97.9,"cov":24},{"pos":99.3,"cov":25.7},{"pos":100,"cov":23}],
"asb6": [{"start":5.2,"end":8.6,"kind":"cds"},{"start":25.4,"end":28.1,"kind":"cds"},{"start":47.7,"end":49.2,"kind":"cds"},{"start":51.2,"end":52.9,"kind":"cds"},{"start":65.2,"end":66.6,"kind":"cds"},{"start":68.6,"end":79.9,"kind":"cds"},{"start":79.9,"end":92.5,"kind":"utr"}],
"egr1": [{"start":22.2,"end":26.3,"kind":"utr"},{"start":26.3,"end":30.8,"kind":"cds"},{"start":40.9,"end":59.8,"kind":"cds"},{"start":59.8,"end":77.2,"kind":"utr"}]
},
"spacing": 24,
"hconcat": [
 {"spacing": 33, "resolve": {"scale": {"color": "independent"}, "legend": {"color": "independent"}}, "vconcat": [
  {"title": {"text": "A", "dx": -14, "offset": 1},
   "width": 40, "height": 140,
   "data": {"name": "pie"},
   "layer": [
    {"mark": {"type": "arc", "outerRadius": 66, "stroke": "#4a4a4a", "strokeWidth": 1},
     "encoding": {
      "theta": {"field": "n", "type": "quantitative", "stack": true},
      "order": {"field": "cat", "sort": "descending"},
      "color": {"field": "cat", "type": "nominal",
        "scale": {"domain": ["Repressed (1955)", "Activated (184)", "< 2-fold change (1521)"], "range": ["#94b7e9", "#e07f78", "#dcee9f"]},
        "legend": {"title": null, "orient": "none", "legendX": 100, "legendY": 32, "symbolType": "square", "symbolSize": 95, "symbolStrokeColor": "#333", "symbolStrokeWidth": 1, "labelFontSize": 13, "labelFontWeight": "bold", "labelColor": "#111", "rowPadding": 17, "labelOffset": 6, "labelLimit": 300}}}},
    {"mark": {"type": "text", "fontSize": 14, "fontWeight": "bold", "color": "#1a1a1a", "radius": {"expr": "datum.cat == 'Activated (184)' ? 92 : (datum.cat == 'Repressed (1955)' ? 37 : 31)"}},
     "encoding": {
      "theta": {"field": "n", "type": "quantitative", "stack": true},
      "order": {"field": "cat", "sort": "descending"},
      "text": {"field": "pct", "type": "nominal"}}},
    {"mark": {"type": "text", "fontSize": 18, "font": "DejaVu Sans", "color": "#111", "radius": 72},
     "encoding": {
      "theta": {"field": "n", "type": "quantitative", "stack": true},
      "order": {"field": "cat", "sort": "descending"},
      "text": {"condition": {"test": "datum.cat == 'Activated (184)'", "value": "↗"}, "value": ""}}}
   ]},
  {"title": {"text": "B", "dx": -14, "offset": 10},
   "width": 217, "height": 176,
   "data": {"name": "scatter"},
   "mark": {"type": "square", "size": 12, "opacity": 1},
   "encoding": {
    "x": {"field": "lx", "type": "quantitative", "scale": {"domain": [3, 6], "nice": false, "zero": false},
      "axis": {"values": [3, 4, 5, 6], "labelFlush": false, "labelExpr": "'10' + ['⁰','¹','²','³','⁴','⁵','⁶','⁷'][datum.value]", "title": "Gene length (bp)", "grid": false, "tickSize": 5, "domainColor": "#000", "tickColor": "#000", "domainWidth": 1.5, "tickWidth": 1.5, "labelFontSize": 13, "labelColor": "#111", "titleFontSize": 13, "titleFontWeight": "bold", "titleColor": "#111", "titlePadding": 4}},
    "y": {"field": "ly", "type": "quantitative", "scale": {"domain": [3, 7], "nice": false, "zero": false},
      "axis": {"values": [3, 4, 5, 6, 7], "labelFlush": false, "labelExpr": "'10' + ['⁰','¹','²','³','⁴','⁵','⁶','⁷'][datum.value]", "title": "Normalized ChIP-seq tags", "grid": false, "tickSize": 5, "domainColor": "#000", "tickColor": "#000", "domainWidth": 1.5, "tickWidth": 1.5, "labelFontSize": 13, "labelColor": "#111", "titleFontSize": 13, "titleFontWeight": "bold", "titleColor": "#111", "titlePadding": 10}},
    "color": {"field": "grp", "type": "nominal", "scale": {"domain": ["control", "heat shock"], "range": ["#4b962a", "#e8862b"]},
      "legend": {"title": null, "orient": "none", "legendX": 134, "legendY": 127, "symbolType": "square", "symbolSize": 30, "labelFontSize": 14, "labelColor": "#111", "rowPadding": 1, "labelOffset": 3}}
   }}
 ]},
 {"spacing": 17, "vconcat": [
  {"title": {"text": "C", "dx": -13, "offset": 1}, "spacing": 0, "bounds": "flush", "vconcat": [
   {"width": 243, "height": 70, "data": {"name": "c_mock"}, "layer": [
     {"mark": {"type": "area", "color": "#5b9b30", "clip": true},
      "encoding": {
       "x": {"field": "pos", "type": "quantitative", "scale": {"domain": [0, 100], "nice": false, "zero": false}, "axis": {"ticks": false, "labels": false, "title": null, "grid": false, "domainColor": "#000", "domainWidth": 1.2}},
       "y": {"field": "cov", "type": "quantitative", "scale": {"domain": [0, 70], "nice": false}, "axis": {"ticks": false, "labels": false, "title": null, "grid": false, "domainColor": "#000", "domainWidth": 1.2}}}},
     {"data": {"values": [{"label": "Mock"}]}, "mark": {"type": "text", "fontSize": 14, "color": "#111"},
      "encoding": {"x": {"datum": 84.4}, "y": {"datum": 49}, "text": {"field": "label"}}}
   ]},
   {"width": 243, "height": 72, "data": {"name": "c_hsv"}, "layer": [
     {"mark": {"type": "area", "color": "#d90f0f", "interpolate": "step-after", "clip": true},
      "encoding": {
       "x": {"field": "pos", "type": "quantitative", "scale": {"domain": [0, 100], "nice": false, "zero": false}, "axis": {"ticks": false, "labels": false, "title": null, "grid": false, "domainColor": "#7a1212", "domainWidth": 1.4}},
       "y": {"field": "cov", "type": "quantitative", "scale": {"domain": [0, 72], "nice": false}, "axis": {"ticks": false, "labels": false, "title": ["Relative ChIP-fragment", "coverage"], "titleFontSize": 14, "titleFontWeight": "normal", "titleColor": "#111", "titleLineHeight": 20, "titlePadding": 6, "grid": false, "domainColor": "#000", "domainWidth": 1.2}}}},
     {"data": {"values": [{"label": "HSV-1"}]}, "mark": {"type": "text", "fontSize": 14, "color": "#111"},
      "encoding": {"x": {"datum": 83.1}, "y": {"datum": 11.5}, "text": {"field": "label"}}}
   ]},
   {"width": 243, "height": 73, "data": {"name": "c_hs"}, "layer": [
     {"mark": {"type": "area", "color": "#e9a14c", "clip": true},
      "encoding": {
       "x": {"field": "pos", "type": "quantitative", "scale": {"domain": [0, 100], "nice": false, "zero": false}, "axis": {"ticks": false, "labels": false, "title": null, "grid": false, "domainColor": "#333", "domainWidth": 1.2}},
       "y": {"field": "cov", "type": "quantitative", "scale": {"domain": [0, 73], "nice": false}, "axis": {"ticks": false, "labels": false, "title": null, "grid": false, "domainColor": "#000", "domainWidth": 1.2}}}},
     {"data": {"values": [{"label": "Heat shock"}]}, "mark": {"type": "text", "fontSize": 14, "color": "#111"},
      "encoding": {"x": {"datum": 83.4}, "y": {"datum": 15.5}, "text": {"field": "label"}}}
   ]},
   {"width": 243, "height": 24, "data": {"name": "asb6"}, "layer": [
     {"data": {"values": [{"start": 5.2, "end": 92.5}]}, "mark": {"type": "rule", "color": "#1c1c7a", "strokeWidth": 1, "strokeDash": [2, 1.5]},
      "encoding": {"x": {"field": "start", "type": "quantitative", "scale": {"domain": [0, 100], "nice": false, "zero": false}, "axis": null}, "x2": {"field": "end"}, "y": {"datum": 0, "type": "quantitative", "scale": {"domain": [-1, 1]}, "axis": null}}},
     {"mark": {"type": "rule", "color": "#1c1c7a", "strokeCap": "butt"},
      "encoding": {"x": {"field": "start", "type": "quantitative"}, "x2": {"field": "end"}, "y": {"datum": 0, "type": "quantitative"},
       "strokeWidth": {"field": "kind", "type": "nominal", "scale": {"domain": ["utr", "cds"], "range": [4.5, 8]}, "legend": null}}},
     {"data": {"values": [{"gene": "Asb6", "start": 5.2}]}, "mark": {"type": "text", "align": "right", "dx": -7, "fontSize": 13.5, "color": "#2d4f9e"},
      "encoding": {"x": {"field": "start", "type": "quantitative"}, "y": {"datum": 0, "type": "quantitative"}, "text": {"field": "gene"}}}
   ]}
  ]},
  {"title": {"text": "D", "dx": -13, "offset": 4}, "spacing": 0, "bounds": "flush", "vconcat": [
   {"width": 243, "height": 73, "data": {"name": "d_mock"}, "layer": [
     {"mark": {"type": "area", "color": "#5b9b30", "clip": true},
      "encoding": {
       "x": {"field": "pos", "type": "quantitative", "scale": {"domain": [0, 100], "nice": false, "zero": false}, "axis": {"ticks": false, "labels": false, "title": null, "grid": false, "domainColor": "#000", "domainWidth": 1.2}},
       "y": {"field": "cov", "type": "quantitative", "scale": {"domain": [0, 73], "nice": false}, "axis": {"ticks": false, "labels": false, "title": null, "grid": false, "domainColor": "#000", "domainWidth": 1.2}}}},
     {"data": {"values": [{"label": "Mock"}]}, "mark": {"type": "text", "fontSize": 15.5, "color": "#111"},
      "encoding": {"x": {"datum": 85.8}, "y": {"datum": 25}, "text": {"field": "label"}}}
   ]},
   {"width": 243, "height": 68, "data": {"name": "d_hsv"}, "layer": [
     {"mark": {"type": "area", "color": "#a80f0f", "clip": true},
      "encoding": {
       "x": {"field": "pos", "type": "quantitative", "scale": {"domain": [0, 100], "nice": false, "zero": false}, "axis": {"ticks": false, "labels": false, "title": null, "grid": false, "domainColor": "#000", "domainWidth": 1.2}},
       "y": {"field": "cov", "type": "quantitative", "scale": {"domain": [0, 68], "nice": false}, "axis": {"ticks": false, "labels": false, "title": ["Relative ChIP-fragment", "coverage"], "titleFontSize": 14, "titleFontWeight": "normal", "titleColor": "#111", "titleLineHeight": 20, "titlePadding": 6, "grid": false, "domainColor": "#000", "domainWidth": 1.2}}}},
     {"data": {"name": "d_hsv_dash"}, "mark": {"type": "rect", "color": "#a80f0f"},
      "encoding": {"x": {"field": "start", "type": "quantitative"}, "x2": {"field": "end"}, "y": {"datum": 0, "type": "quantitative"}, "y2": {"datum": 1.6}}},
     {"data": {"values": [{"label": "HSV-1"}]}, "mark": {"type": "text", "fontSize": 15.5, "color": "#111"},
      "encoding": {"x": {"datum": 85.8}, "y": {"datum": 13}, "text": {"field": "label"}}}
   ]},
   {"width": 243, "height": 69, "data": {"name": "d_hs"}, "layer": [
     {"mark": {"type": "area", "color": "#e8862b", "clip": true},
      "encoding": {
       "x": {"field": "pos", "type": "quantitative", "scale": {"domain": [0, 100], "nice": false, "zero": false}, "axis": {"ticks": false, "labels": false, "title": null, "grid": false, "domainColor": "#333", "domainWidth": 1.2}},
       "y": {"field": "cov", "type": "quantitative", "scale": {"domain": [0, 69], "nice": false}, "axis": {"ticks": false, "labels": false, "title": null, "grid": false, "domainColor": "#000", "domainWidth": 1.2}}}},
     {"data": {"values": [{"start": 20.6, "end": 31.1}]}, "mark": {"type": "rule", "color": "#e03fc0", "strokeWidth": 2.5},
      "encoding": {"x": {"field": "start", "type": "quantitative"}, "x2": {"field": "end"}, "y": {"datum": 67, "type": "quantitative"}}},
     {"data": {"values": [{"label": "Heat shock"}]}, "mark": {"type": "text", "fontSize": 15.5, "color": "#111"},
      "encoding": {"x": {"datum": 85.4}, "y": {"datum": 44}, "text": {"field": "label"}}}
   ]},
   {"width": 243, "height": 19, "data": {"name": "egr1"}, "layer": [
     {"data": {"values": [{"start": 22.2, "end": 77.2}]}, "mark": {"type": "rule", "color": "#1c1c7a", "strokeWidth": 1, "strokeDash": [2, 1.5]},
      "encoding": {"x": {"field": "start", "type": "quantitative", "scale": {"domain": [0, 100], "nice": false, "zero": false}, "axis": null}, "x2": {"field": "end"}, "y": {"datum": 0, "type": "quantitative", "scale": {"domain": [-1, 1]}, "axis": null}}},
     {"mark": {"type": "rule", "color": "#1c1c7a", "strokeCap": "butt"},
      "encoding": {"x": {"field": "start", "type": "quantitative"}, "x2": {"field": "end"}, "y": {"datum": 0, "type": "quantitative"},
       "strokeWidth": {"field": "kind", "type": "nominal", "scale": {"domain": ["utr", "cds"], "range": [4.5, 8]}, "legend": null}}},
     {"data": {"values": [{"gene": "Egr1", "start": 22.2}]}, "mark": {"type": "text", "align": "right", "dx": -7, "fontSize": 13.5, "color": "#2d4f9e"},
      "encoding": {"x": {"field": "start", "type": "quantitative"}, "y": {"datum": 0, "type": "quantitative"}, "text": {"field": "gene"}}}
   ]}
  ]}
 ]}
]
}
